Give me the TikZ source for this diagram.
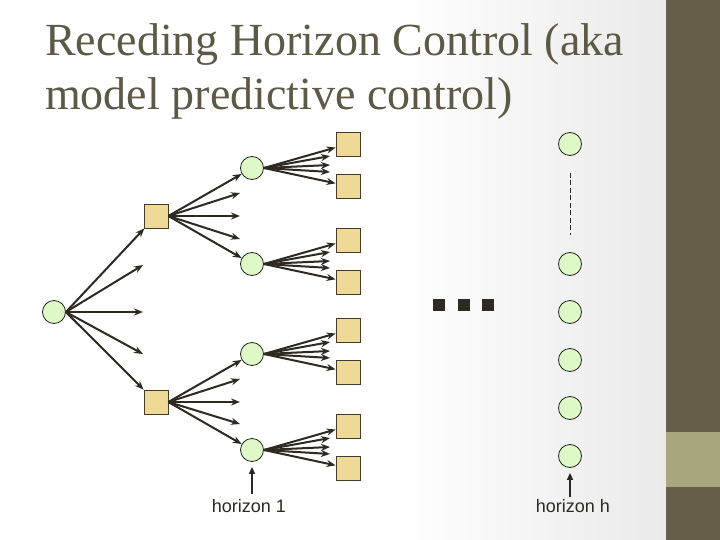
\documentclass[tikz,border=0pt]{standalone}
\usepackage{fontspec}
\setmainfont{Liberation Serif}
\newfontfamily\labfont{Liberation Sans}
\usetikzlibrary{arrows.meta}
\definecolor{titlec}{RGB}{94,89,70}
\definecolor{sidec}{RGB}{101,94,72}
\definecolor{bandc}{RGB}{169,167,127}
\definecolor{bgg}{RGB}{234,234,234}
\definecolor{arrc}{RGB}{46,42,34}
\definecolor{circf}{RGB}{222,248,200}
\definecolor{circd}{RGB}{30,42,20}
\definecolor{sqf}{RGB}{239,217,150}
\definecolor{sqd}{RGB}{70,60,38}
\tikzset{
  circ/.style={circle,minimum size=23pt,inner sep=0pt,draw=circd,line width=0.8pt,fill=circf},
  sq/.style={rectangle,minimum size=24pt,inner sep=0pt,draw=sqd,line width=0.8pt,fill=sqf},
  dotsq/.style={rectangle,minimum size=12pt,inner sep=0pt,fill=arrc},
  arr/.style={draw=arrc,line width=2pt,-{Stealth[length=9pt,width=7pt]}},
  larr/.style={draw=arrc,line width=1.5pt,-{Triangle[length=7pt,width=6pt]},shorten >=5pt},
  lab/.style={font=\labfont\fontsize{18}{20}\selectfont,text=arrc,inner sep=0pt,anchor=base},
  ttl/.style={font=\fontsize{46}{50}\selectfont,text=titlec,inner sep=0pt,anchor=base west}
}
\begin{document}
\begin{tikzpicture}[x=1pt,y=-1pt]
\useasboundingbox (0,0) rectangle (720,540);
\fill[white] (0,0) rectangle (400,540);
\shade[left color=white,right color=bgg] (399,0) rectangle (666,540);
\fill[sidec] (666,0) rectangle (720,540);
\fill[bandc] (666,432) rectangle (720,487);
% title
\node[ttl] (t1) at (45,56) {Receding Horizon Control (aka};
\node[ttl] (t2) at (45,110) {model predictive control)};
% root
\node[circ] (r) at (54,312) {};
\node[sq] (a1) at (156,216) {};
\node[sq] (a2) at (156,402) {};
\coordinate (r1) at (143,265);
\coordinate (r2) at (143,312);
\coordinate (r3) at (143,354);
\draw[arr] (r.east) -- (a1);
\draw[arr] (r.east) -- (r1);
\draw[arr] (r.east) -- (r2);
\draw[arr] (r.east) -- (r3);
\draw[arr] (r.east) -- (a2);
% level 2 circles
\node[circ] (b1) at (252,168) {};
\node[circ] (b2) at (252,264) {};
\node[circ] (b3) at (252,354) {};
\node[circ] (b4) at (252,450) {};
\coordinate (p1) at (240,193);
\coordinate (p2) at (240,216);
\coordinate (p3) at (240,239);
\coordinate (q1) at (240,379);
\coordinate (q2) at (240,402);
\coordinate (q3) at (240,424);
\draw[arr] (a1.east) -- (b1);
\draw[arr] (a1.east) -- (p1);
\draw[arr] (a1.east) -- (p2);
\draw[arr] (a1.east) -- (p3);
\draw[arr] (a1.east) -- (b2);
\draw[arr] (a2.east) -- (b3);
\draw[arr] (a2.east) -- (q1);
\draw[arr] (a2.east) -- (q2);
\draw[arr] (a2.east) -- (q3);
\draw[arr] (a2.east) -- (b4);
% level 3
\foreach \i/\cy in {1/168,2/264,3/354,4/450}{
  \node[sq] (c\i u) at (348,{\cy-24}) {};
  \node[sq] (c\i d) at (348,{\cy+18}) {};
  \coordinate (e\i a) at (330,{\cy-12});
  \coordinate (e\i b) at (330,{\cy-3});
  \coordinate (e\i c) at (330,{\cy+4});
  \draw[arr] (b\i.east) -- (c\i u);
  \draw[arr] (b\i.east) -- (e\i a);
  \draw[arr] (b\i.east) -- (e\i b);
  \draw[arr] (b\i.east) -- (e\i c);
  \draw[arr] (b\i.east) -- (c\i d);
}
% dots
\node[dotsq] (d1) at (439,305) {};
\node[dotsq] (d2) at (464,305) {};
\node[dotsq] (d3) at (488,305) {};
% horizon h column
\node[circ] (h1) at (570,144) {};
\node[circ] (h2) at (570,264) {};
\node[circ] (h3) at (570,312) {};
\node[circ] (h4) at (570,360) {};
\node[circ] (h5) at (570,408) {};
\node[circ] (h6) at (570,456) {};
\draw[arrc,line width=0.9pt,dash pattern=on 5pt off 2.5pt] ([yshift=-17pt]h1.south) -- ([yshift=17pt]h2.north);
% labels
\node[lab] (l1) at (249,512) {horizon 1};
\node[lab] (l2) at (573,512) {horizon h};
\coordinate (s1) at (252,494);
\coordinate (s2) at (570,497);
\draw[larr] (s1) -- (b4);
\draw[larr] (s2) -- (h6);
\end{tikzpicture}
\end{document}
